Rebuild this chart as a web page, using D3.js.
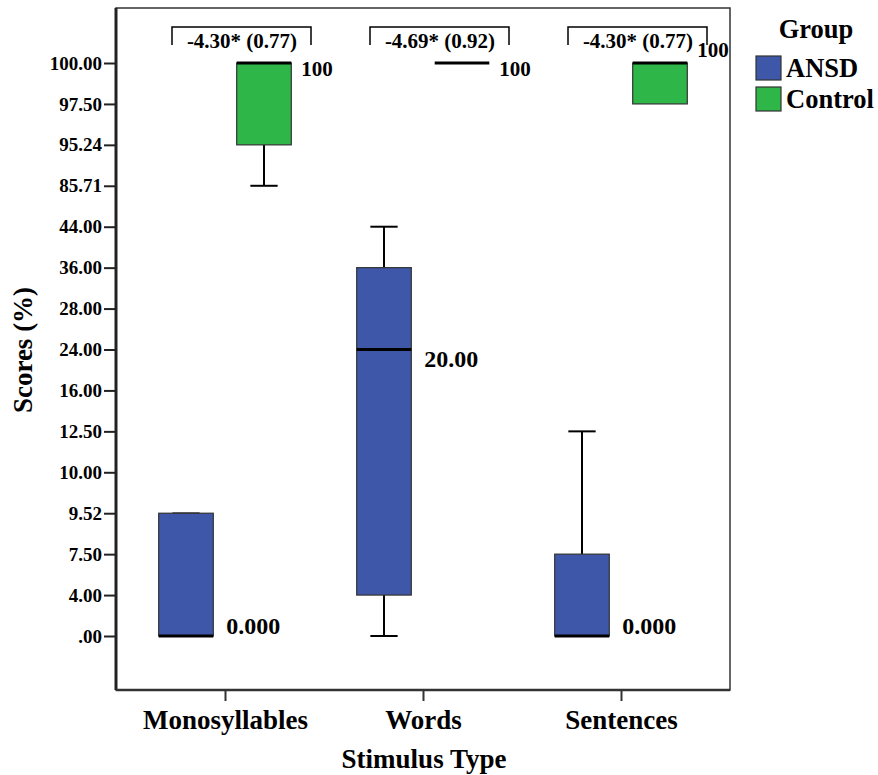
<!DOCTYPE html>
<html>
<head>
<meta charset="utf-8">
<script src="https://cdn.jsdelivr.net/npm/d3@7/dist/d3.min.js"></script>
<style>
  body { margin: 0; background: #fff; }
</style>
</head>
<body>
<div id="chart"></div>
<script>
// categories and groups
var stimuli = ["Monosyllables", "Words", "Sentences"];
var groups = ["ANSD", "Control"];
// the y axis is not linear: every score level gets its own evenly spaced slot
var yLevels = [0, 4, 7.5, 9.52, 10, 12.5, 16, 24, 28, 36, 44, 85.71, 95.24, 97.5, 100];

// five-number summaries, one entry per stimulus (min, q1, median, q3, max)
var ansdMin = [0, 0, 0];
var ansdQ1 = [0, 4, 0];
var ansdMed = [0, 24, 0];
var ansdQ3 = [9.52, 36, 7.5];
var ansdMax = [9.52, 44, 12.5];
var ansdLabel = ["0.000", "20.00", "0.000"];

var ctrlMin = [85.71, 100, 97.5];
var ctrlQ1 = [95.24, 100, 97.5];
var ctrlMed = [100, 100, 100];
var ctrlQ3 = [100, 100, 100];
var ctrlMax = [100, 100, 100];
var ctrlLabel = ["100", "100", "100"];

// comparison annotations above each pair
var compareText = ["-4.30* (0.77)", "-4.69* (0.92)", "-4.30* (0.77)"];

var width = 878, height = 775;
var frame = {left: 116, right: 730, top: 8, bottom: 690};
var colors = {"ANSD": "#3e57a9", "Control": "#2eb748"};

var svg = d3.select("#chart").append("svg")
	.attr("width", width)
	.attr("height", height);

var x = d3.scalePoint()
	.domain(stimuli)
	.range([225, 621]);

var xSub = d3.scaleBand()
	.domain(groups)
	.range([-78, 78])
	.paddingInner(0.3)
	.paddingOuter(0.15);

var y = d3.scalePoint()
	.domain(yLevels)
	.range([636, 63]);

function tickLabel(d) {
	return d === 0 ? ".00" : d.toFixed(2);
}

//axes
var yAxis = svg.append("g")
	.attr("transform", "translate(" + frame.left + ",0)")
	.call(d3.axisLeft(y).tickSize(12).tickPadding(2).tickFormat(tickLabel));
yAxis.select(".domain").remove();
yAxis.selectAll("line").attr("stroke", "#222").attr("stroke-width", 2);
yAxis.selectAll("text").attr("font-size", 19);

var xAxis = svg.append("g")
	.attr("transform", "translate(0," + frame.bottom + ")")
	.call(d3.axisBottom(x).tickSize(11).tickPadding(9));
xAxis.select(".domain").remove();
xAxis.selectAll("line").attr("stroke", "#333").attr("stroke-width", 2);
xAxis.selectAll("text").attr("font-size", 27);

//frame
svg.append("rect")
	.attr("x", frame.left)
	.attr("y", frame.top)
	.attr("width", frame.right - frame.left)
	.attr("height", frame.bottom - frame.top)
	.attr("fill", "none")
	.attr("stroke", "#333")
	.attr("stroke-width", 1.5);
svg.append("line")
	.attr("x1", frame.left).attr("x2", frame.left)
	.attr("y1", frame.top).attr("y2", frame.bottom)
	.attr("stroke", "#222").attr("stroke-width", 3);
svg.append("line")
	.attr("x1", frame.left).attr("x2", frame.right)
	.attr("y1", frame.bottom).attr("y2", frame.bottom)
	.attr("stroke", "#333").attr("stroke-width", 2.5);

//box data
var boxes = [];
stimuli.forEach(function(s, i) {
	boxes.push({stim: s, group: "ANSD", min: ansdMin[i], q1: ansdQ1[i], med: ansdMed[i], q3: ansdQ3[i], max: ansdMax[i], label: ansdLabel[i]});
	boxes.push({stim: s, group: "Control", min: ctrlMin[i], q1: ctrlQ1[i], med: ctrlMed[i], q3: ctrlQ3[i], max: ctrlMax[i], label: ctrlLabel[i]});
});

var bw = xSub.bandwidth();
var box = svg.selectAll(".box")
	.data(boxes)
	.enter()
	.append("g")
	.attr("class", "box")
	.attr("transform", function(d) {
		return "translate(" + (x(d.stim) + xSub(d.group)) + ",0)";
	});

//whiskers
box.filter(function(d) { return d.max > d.q3; })
	.append("line")
	.attr("x1", bw / 2).attr("x2", bw / 2)
	.attr("y1", function(d) { return y(d.q3); })
	.attr("y2", function(d) { return y(d.max); })
	.attr("stroke", "#000").attr("stroke-width", 2);
box.filter(function(d) { return d.min < d.q1; })
	.append("line")
	.attr("x1", bw / 2).attr("x2", bw / 2)
	.attr("y1", function(d) { return y(d.q1); })
	.attr("y2", function(d) { return y(d.min); })
	.attr("stroke", "#000").attr("stroke-width", 2);
box.filter(function(d) { return d.max > d.q1; })
	.append("line")
	.attr("x1", bw / 4).attr("x2", bw * 3 / 4)
	.attr("y1", function(d) { return y(d.max); })
	.attr("y2", function(d) { return y(d.max); })
	.attr("stroke", "#000").attr("stroke-width", function(d) { return d.max > d.q3 ? 2 : 1.5; });
box.filter(function(d) { return d.min < d.q1; })
	.append("line")
	.attr("x1", bw / 4).attr("x2", bw * 3 / 4)
	.attr("y1", function(d) { return y(d.min); })
	.attr("y2", function(d) { return y(d.min); })
	.attr("stroke", "#000").attr("stroke-width", 2);

//boxes
box.filter(function(d) { return d.q3 > d.q1; })
	.append("rect")
	.attr("x", 0)
	.attr("width", bw)
	.attr("y", function(d) { return y(d.q3); })
	.attr("height", function(d) { return y(d.q1) - y(d.q3); })
	.attr("fill", function(d) { return colors[d.group]; })
	.attr("stroke", "#333")
	.attr("stroke-width", 1.2);

//medians
box.append("line")
	.attr("x1", 0).attr("x2", bw)
	.attr("y1", function(d) { return y(d.med); })
	.attr("y2", function(d) { return y(d.med); })
	.attr("stroke", "#000").attr("stroke-width", 3);

//median labels
box.append("text")
	.attr("x", function(d) { return d.group === "ANSD" ? bw + 13 : bw + 10; })
	.attr("y", function(d, i) {
		if (d.group === "ANSD") return d.med === 0 ? y(d.med) - 2 : y(d.med) + 17;
		return d.stim === "Sentences" ? y(d.med) - 6 : y(d.med) + 13;
	})
	.attr("font-size", function(d) { return d.group === "ANSD" ? 24 : 21; })
	.text(function(d) { return d.label; });

//comparison brackets
var bracket = svg.selectAll(".bracket")
	.data(stimuli)
	.enter()
	.append("g")
	.attr("class", "bracket");
bracket.append("path")
	.attr("d", function(d) {
		var x0 = x(d) + xSub("ANSD") + bw / 2 - 14, x1 = x(d) + xSub("Control") + bw / 2 + 47;
		return "M" + x0 + ",45V27H" + x1 + "V45";
	})
	.attr("fill", "none")
	.attr("stroke", "#000")
	.attr("stroke-width", 1.5);
bracket.append("text")
	.attr("x", function(d) { return x(d) + 17; })
	.attr("y", 48)
	.attr("text-anchor", "middle")
	.attr("font-size", 21)
	.text(function(d, i) { return compareText[i]; });

//axis titles
svg.append("text")
	.attr("transform", "translate(32,350) rotate(-90)")
	.attr("text-anchor", "middle")
	.attr("font-size", 27)
	.text("Scores (%)");
svg.append("text")
	.attr("x", 424)
	.attr("y", 768)
	.attr("text-anchor", "middle")
	.attr("font-size", 27)
	.text("Stimulus Type");

//legend
svg.append("text")
	.attr("x", 816)
	.attr("y", 38)
	.attr("text-anchor", "middle")
	.attr("font-size", 26.5)
	.text("Group");
var legend = svg.selectAll(".legend")
	.data(groups)
	.enter()
	.append("g")
	.attr("class", "legend")
	.attr("transform", function(d, i) { return "translate(756," + (56 + i * 31) + ")"; });
legend.append("rect")
	.attr("width", 25)
	.attr("height", 24)
	.attr("fill", function(d) { return colors[d]; })
	.attr("stroke", "#333")
	.attr("stroke-width", 1.2);
legend.append("text")
	.attr("x", 30)
	.attr("y", 21)
	.attr("font-size", 26.5)
	.text(function(d) { return d; });

//one serif bold face for every label, set on each text itself
svg.selectAll("text")
	.attr("font-family", "'Liberation Serif'")
	.attr("font-weight", "bold")
	.attr("fill", "#000");
</script>
</body>
</html>
